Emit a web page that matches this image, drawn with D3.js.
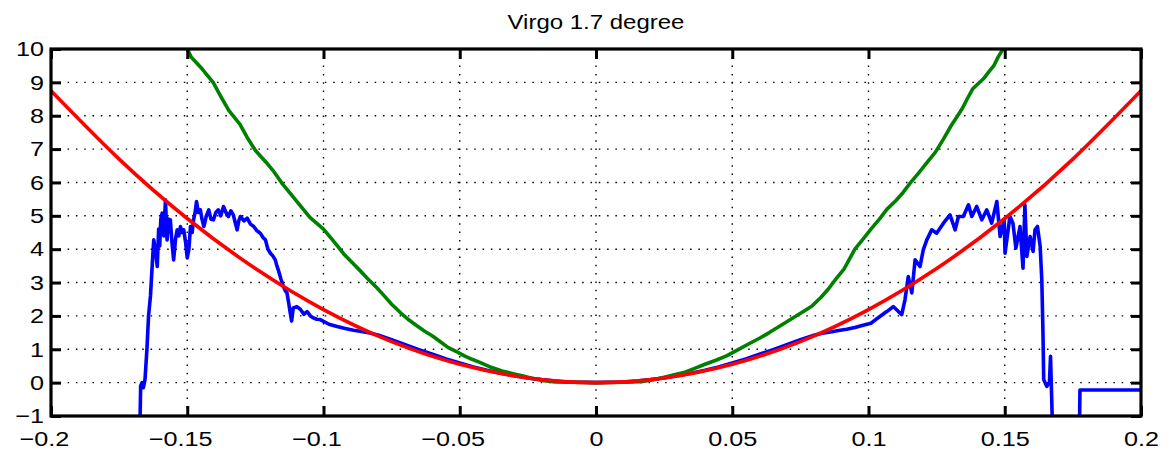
<!DOCTYPE html>
<html>
<head>
<meta charset="utf-8">
<script src="https://cdn.jsdelivr.net/npm/d3@7"></script>
<style>
  body { margin: 0; background: #fff; }
  svg { display: block; }
  text { font-family: "Liberation Sans", Arial, Helvetica, sans-serif; fill: #000; }
</style>
</head>
<body>
<div id="chart"></div>
<script>
// tick values + labels
const xTicks = [-0.2, -0.15, -0.1, -0.05, 0, 0.05, 0.1, 0.15, 0.2];
const xTickLabels = ["\u22120.2", "\u22120.15", "\u22120.1", "\u22120.05", "0", "0.05", "0.1", "0.15", "0.2"];
const yTicks = [-1, 0, 1, 2, 3, 4, 5, 6, 7, 8, 9, 10];
const yTickLabels = ["\u22121", "0", "1", "2", "3", "4", "5", "6", "7", "8", "9", "10"];

// red (fit)
const redX = [-0.2, -0.175, -0.15, -0.125, -0.1, -0.075, -0.05, -0.025, 0, 0.025, 0.05, 0.075, 0.1, 0.125, 0.15, 0.175, 0.2];
const redY = [8.75, 6.70, 4.92, 3.42, 2.19, 1.23, 0.55, 0.14, 0, 0.14, 0.55, 1.23, 2.19, 3.42, 4.92, 6.70, 8.75];

// green
const greenX = [-0.152, -0.15, -0.1485, -0.1445, -0.1405, -0.1375, -0.1347, -0.1307, -0.128, -0.1249, -0.121, -0.118,
  -0.115, -0.111, -0.108, -0.105, -0.1, -0.0954, -0.0925, -0.0895, -0.0865, -0.0836, -0.0805, -0.0777, -0.075,
  -0.0718, -0.069, -0.066, -0.063, -0.06, -0.057, -0.0542, -0.051, -0.0483, -0.0455, -0.0424, -0.0385, -0.0345,
  -0.0305, -0.0267, -0.023, -0.019, -0.015, -0.01, 0, 0.01, 0.0165, 0.0205, 0.0243, 0.028, 0.0322, 0.036, 0.04,
  0.044, 0.0479, 0.052, 0.0558, 0.06, 0.0636, 0.0675, 0.0715, 0.0755, 0.0793, 0.0825, 0.0852, 0.088, 0.091, 0.093,
  0.095, 0.098, 0.1009, 0.104, 0.1068, 0.11, 0.1127, 0.1155, 0.1186, 0.1215, 0.1245, 0.1275, 0.1303, 0.1323,
  0.1343, 0.1362, 0.1382, 0.1401, 0.1421, 0.144, 0.146, 0.1475, 0.149, 0.151];
const greenY = [10.3, 10.0, 9.75, 9.4, 9.0, 8.55, 8.15, 7.75, 7.35, 6.95, 6.6, 6.3,
  5.95, 5.55, 5.25, 4.95, 4.6, 4.15, 3.85, 3.6, 3.35, 3.1, 2.85, 2.6, 2.35,
  2.1, 1.9, 1.72, 1.55, 1.4, 1.22, 1.05, 0.92, 0.8, 0.7, 0.6, 0.46, 0.35,
  0.27, 0.2, 0.12, 0.06, 0.02, 0.01, 0, 0.01, 0.03, 0.08, 0.15, 0.22, 0.3, 0.42, 0.55,
  0.67, 0.8, 0.98, 1.15, 1.33, 1.5, 1.7, 1.9, 2.1, 2.3, 2.55, 2.8, 3.1, 3.4, 3.7,
  4.0, 4.3, 4.6, 4.9, 5.2, 5.45, 5.7, 6.0, 6.3, 6.6, 6.9, 7.3, 7.7, 7.95,
  8.2, 8.5, 8.8, 8.95, 9.1, 9.3, 9.5, 9.75, 9.95, 10.3];

// blue
const blueX = [-0.1676, -0.1673, -0.1671, -0.1666, -0.1661, -0.1655, -0.1648, -0.1642, -0.1635, -0.1628, -0.1623,
  -0.1616, -0.161, -0.1605, -0.1601, -0.1597, -0.1592, -0.1586, -0.158, -0.1574, -0.1568, -0.1562, -0.1556, -0.155,
  -0.1543, -0.1537, -0.1531, -0.1525, -0.1519, -0.1513, -0.1506, -0.15, -0.1494, -0.1488, -0.1482, -0.1477, -0.1471,
  -0.1466, -0.1459, -0.1452, -0.1446, -0.1439, -0.143, -0.1421, -0.1413, -0.1404, -0.1395, -0.1386, -0.1377, -0.1367,
  -0.1358, -0.1349, -0.134, -0.1331, -0.1324, -0.1317, -0.1311, -0.1305, -0.1292, -0.128, -0.1268, -0.1256, -0.1244,
  -0.1232, -0.1222, -0.1213, -0.1204, -0.1195, -0.1186, -0.1177, -0.1171, -0.1166, -0.1156, -0.1147, -0.114, -0.1134,
  -0.1128, -0.1122, -0.1117, -0.1111, -0.1098, -0.1085, -0.1072, -0.106, -0.1048, -0.1037, -0.1025, -0.1012, -0.098,
  -0.095, -0.092, -0.089, -0.086, -0.083,
  -0.08, -0.075, -0.07, -0.065, -0.06, -0.055, -0.05, -0.045, -0.04, -0.035, -0.03, -0.025, -0.02, -0.015, -0.01,
  -0.005, 0, 0.005, 0.01, 0.015, 0.02, 0.025, 0.03, 0.035, 0.04, 0.045, 0.05, 0.055, 0.06, 0.065, 0.07, 0.075, 0.08,
  0.083, 0.086, 0.089, 0.092, 0.095, 0.098, 0.1009, 0.1025,
  0.1043, 0.1067, 0.1091, 0.111, 0.1122, 0.1134, 0.1146, 0.1159, 0.1171, 0.1189, 0.1201, 0.1214, 0.1232, 0.125,
  0.1275, 0.1299, 0.1318, 0.133, 0.1348, 0.1367, 0.1379, 0.1397, 0.1416, 0.1434, 0.1452, 0.1471, 0.1483, 0.1498,
  0.1501, 0.1519, 0.153, 0.1541, 0.1556, 0.1567, 0.1574, 0.1581, 0.1593, 0.1604, 0.1611, 0.162, 0.163, 0.1636,
  0.164, 0.1643, 0.1654, 0.1664, 0.1668, 0.1671, 0.1674, 0.1677, 0.1774, 0.1776, 0.2];
const blueY = [-1.5, -1.0, -0.1, 0.0, -0.15, 0.1, 1.0, 2.0, 2.6, 3.6, 4.28,
  3.9, 3.48, 4.6, 4.1, 4.9, 5.08, 4.4, 5.48, 4.28, 4.9, 4.88, 4.2, 3.68,
  4.3, 4.58, 4.4, 4.68, 4.5, 4.58, 4.2, 3.74, 4.0, 4.68, 4.5, 4.88, 5.1,
  5.43, 5.1, 5.18, 4.9, 4.68, 5.0, 5.18, 4.9, 4.88, 5.1, 5.18, 5.0, 5.28,
  5.1, 4.98, 5.15, 5.03, 4.8, 4.58, 4.85, 4.98, 4.85, 4.93, 4.75, 4.68, 4.55,
  4.48, 4.35, 4.28, 4.0, 3.88, 3.8, 3.68, 3.5, 3.38, 3.1, 2.88, 2.75, 2.69,
  2.4, 2.09, 1.85, 2.24, 2.28, 2.2, 2.05, 2.13, 2.0, 1.94, 1.9, 1.89, 1.75,
  1.68, 1.62, 1.57, 1.53, 1.49,
  1.43, 1.29, 1.14, 0.99, 0.85, 0.71, 0.59, 0.47, 0.37, 0.28, 0.21, 0.14, 0.09, 0.05, 0.02,
  0.01, 0, 0.01, 0.02, 0.05, 0.09, 0.14, 0.21, 0.28, 0.37, 0.47, 0.59, 0.71, 0.85, 0.99, 1.14, 1.29, 1.42,
  1.48, 1.52, 1.56, 1.6, 1.65, 1.72, 1.78, 1.88,
  1.99, 2.13, 2.28, 2.13, 2.04, 2.49, 3.18, 2.69, 3.68, 3.48, 3.98, 4.28, 4.58, 4.48,
  4.78, 5.03, 4.58, 4.98, 4.98, 5.33, 4.98, 5.28, 4.88, 5.18, 4.78, 5.43, 4.38, 4.88,
  3.88, 4.98, 4.78, 4.03, 4.68, 3.43, 5.33, 3.78, 4.38, 3.93, 4.58, 4.68, 4.08, 3.08,
  1.6, 0.09, -0.11, 0.0, 0.79, -0.1, -1.0, -1.5, -1.5, -0.22, -0.22];

const width = 1172;
const height = 450;
const plotLeft = 51, plotRight = 1141, plotTop = 49, plotBottom = 416;
const textScale = 1.2;

const svg = d3.select("#chart")
  .append("svg")
  .attr("width", width)
  .attr("height", height);

const x = d3.scaleLinear()
  .domain([-0.2, 0.2])
  .range([plotLeft, plotRight]);

const y = d3.scaleLinear()
  .domain([-1, 10])
  .range([plotBottom, plotTop]);

svg.append("defs").append("clipPath")
  .attr("id", "plotclip")
  .append("rect")
  .attr("x", plotLeft).attr("y", plotTop)
  .attr("width", plotRight - plotLeft).attr("height", plotBottom - plotTop);

// dotted grid
const grid = svg.append("g");
grid.selectAll("line.gx")
  .data(xTicks.slice(1, -1)).enter()
  .append("line")
  .attr("x1", d => x(d)).attr("x2", d => x(d))
  .attr("y1", plotTop).attr("y2", plotBottom)
  .attr("stroke", "#000")
  .attr("stroke-width", 1.4)
  .attr("stroke-dasharray", "1.5,6.8");
grid.selectAll("line.gy")
  .data(yTicks.slice(1, -1)).enter()
  .append("line")
  .attr("x1", plotLeft).attr("x2", plotRight)
  .attr("y1", d => y(d)).attr("y2", d => y(d))
  .attr("stroke", "#000")
  .attr("stroke-width", 1.4)
  .attr("stroke-dasharray", "1.5,6.8");

// data lines
const plot = svg.append("g").attr("clip-path", "url(#plotclip)");

function drawLine(xs, ys, colour, curve) {
  const pts = xs.map((v, i) => [v, ys[i]]);
  plot.append("path")
    .datum(pts)
    .attr("fill", "none")
    .attr("stroke", colour)
    .attr("stroke-width", 3.6)
    .attr("stroke-linejoin", "round")
    .attr("d", d3.line().x(p => x(p[0])).y(p => y(p[1])).curve(curve));
}

drawLine(blueX, blueY, "#0000ff", d3.curveLinear);
drawLine(greenX, greenY, "#008000", d3.curveLinear);
drawLine(redX, redY, "#ff0000", d3.curveNatural);

// axes, ticks pointing inward
const xAxis = svg.append("g")
  .attr("transform", `translate(0,${plotBottom})`)
  .call(d3.axisBottom(x).tickValues(xTicks).tickSize(-10).tickPadding(15)
    .tickFormat((d, i) => xTickLabels[i]));

svg.append("g")
  .attr("transform", `translate(0,${plotTop})`)
  .call(d3.axisTop(x).tickValues(xTicks).tickSize(-10).tickFormat(""));

const yAxis = svg.append("g")
  .attr("transform", `translate(${plotLeft},0)`)
  .call(d3.axisLeft(y).tickValues(yTicks).tickSize(-10).tickPadding(7)
    .tickFormat((d, i) => yTickLabels[i]));

svg.append("g")
  .attr("transform", `translate(${plotRight},0)`)
  .call(d3.axisRight(y).tickValues(yTicks).tickSize(-10).tickFormat(""));

svg.selectAll(".domain").remove();
svg.selectAll(".tick line")
  .attr("stroke", "#000")
  .attr("stroke-width", 3);
svg.selectAll(".tick text")
  .attr("font-family", "Liberation Sans, Arial, sans-serif")
  .attr("font-size", 21)
  .attr("fill", "#000");

xAxis.selectAll(".tick text")
  .attr("dx", (d, i) => xTickLabels[i].startsWith("\u2212") ? -6 : 0)
  .attr("transform", `scale(${textScale},1)`);

yAxis.selectAll(".tick text")
  .attr("x", -7 / textScale)
  .attr("transform", `scale(${textScale},1)`);

// box
svg.append("rect")
  .attr("x", plotLeft).attr("y", plotTop)
  .attr("width", plotRight - plotLeft).attr("height", plotBottom - plotTop)
  .attr("fill", "none")
  .attr("stroke", "#000")
  .attr("stroke-width", 3.2);

// title
svg.append("text")
  .attr("transform", `translate(${(plotLeft + plotRight) / 2},29) scale(${textScale},1)`)
  .attr("text-anchor", "middle")
  .attr("font-size", 20)
  .text("Virgo 1.7 degree");
</script>
</body>
</html>
